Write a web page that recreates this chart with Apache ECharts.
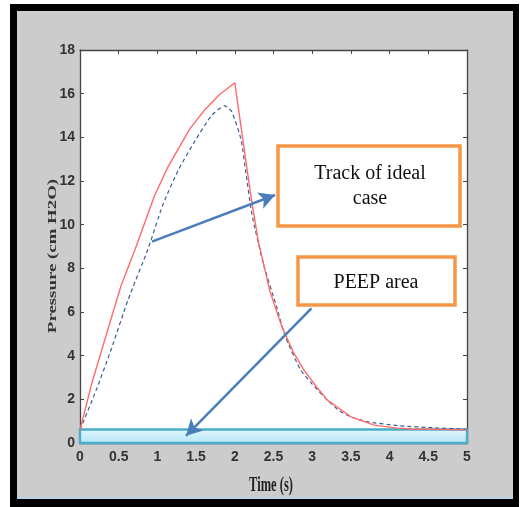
<!DOCTYPE html>
<html>
<head>
<meta charset="utf-8">
<script src="https://cdn.jsdelivr.net/npm/echarts@6/dist/echarts.min.js"></script>
<style>
html,body{margin:0;padding:0;background:#ffffff;}
#chart{width:529px;height:507px;}
</style>
</head>
<body>
<div id="chart"></div>
<script>
// ---- data ----
var xTicks = [0, 0.5, 1, 1.5, 2, 2.5, 3, 3.5, 4, 4.5, 5];
var yTicks = [0, 2, 4, 6, 8, 10, 12, 14, 16, 18];

var measuredTime = [0, 0.15, 0.36, 0.53, 0.71, 0.96, 1.13, 1.42, 1.61, 1.8, 2.0, 2.1, 2.2, 2.3, 2.45, 2.6, 2.75, 2.9, 3.05, 3.2, 3.5, 3.8, 4.1, 4.3, 5.0];
var measuredPressure = [0.6, 2.7, 5.2, 7.2, 8.85, 11.3, 12.6, 14.4, 15.25, 15.95, 16.5, 14.0, 11.5, 9.3, 7.0, 5.4, 4.2, 3.3, 2.6, 1.95, 1.2, 0.82, 0.68, 0.64, 0.6];

var idealTime = [0, 0.21, 0.40, 0.62, 0.88, 1.07, 1.27, 1.48, 1.70, 1.87, 1.96, 2.08, 2.15, 2.22, 2.37, 2.54, 2.65, 2.85, 3.0, 3.2, 3.36, 3.5, 3.7, 4.13, 4.56, 5.0, 5.14];
var idealPressure = [0.6, 2.43, 4.26, 6.55, 8.9, 10.9, 12.5, 13.8, 15.0, 15.44, 15.18, 13.9, 12.2, 10.5, 8.2, 6.24, 4.9, 3.35, 2.7, 1.95, 1.45, 1.2, 0.98, 0.79, 0.70, 0.63, 0.6];

var peepRange = {t0: 0, t1: 5, p0: 0, p1: 0.62};
var arrowIdeal = [[0.93, 9.22], [2.52, 11.36]];
var arrowPeep = [[2.99, 6.17], [1.37, 0.33]];

var xTitle = 'Time (s)';
var yTitle = 'Pressure (cm H2O)';

function pairs(xs, ys) { return xs.map(function (x, i) { return [x, ys[i]]; }); }

var chart = echarts.init(document.getElementById('chart'), null, {renderer: 'canvas'});

function tick() { return {show: true, inside: true, length: 4, lineStyle: {color: '#454545', width: 1}}; }
function line() { return {show: true, onZero: false, lineStyle: {color: '#454545', width: 1.3}}; }
var labelStyle = {color: '#333333', fontFamily: '"Liberation Sans Narrow", "Arial Narrow", "Liberation Sans"', fontSize: 14, fontWeight: 'bold'};

var option = {
  animation: false,
  backgroundColor: 'transparent',
  graphic: [
    {type: 'rect', z: -10, shape: {x: 10, y: 4, width: 509, height: 503}, style: {fill: '#000000'}},
    {type: 'rect', z: -9, shape: {x: 17, y: 11, width: 496, height: 488}, style: {fill: '#cccccc'}},
    {type: 'rect', z: -9, shape: {x: 17, y: 497, width: 496, height: 2}, style: {fill: '#b8d0ea'}},
    {type: 'text', z: 50, x: 271, y: 486, scaleX: 0.78, scaleY: 1.3,
      style: {text: xTitle, fill: '#222222', font: 'bold 16px "Liberation Serif", "Times New Roman", serif', textAlign: 'center', textVerticalAlign: 'middle'}},
    {type: 'text', z: 50, x: 53, y: 256, rotation: Math.PI / 2, scaleX: 1.45, scaleY: 1.0,
      style: {text: yTitle, fill: '#333333', font: 'bold 13px "Liberation Serif", "Times New Roman", serif', textAlign: 'center', textVerticalAlign: 'middle'}},
    {type: 'group', z: 100, children: [
      {type: 'rect', shape: {x: 278, y: 146, width: 182, height: 80}, style: {fill: '#ffffff', stroke: '#f79646', lineWidth: 3.5}},
      {type: 'text', style: {x: 370, y: 186, text: 'Track of ideal\ncase', fill: '#111111', font: '20px "Liberation Serif", "Times New Roman", serif', textAlign: 'center', textVerticalAlign: 'middle', lineHeight: 25}}
    ]},
    {type: 'group', z: 100, children: [
      {type: 'rect', shape: {x: 298, y: 257, width: 157, height: 48}, style: {fill: '#ffffff', stroke: '#f79646', lineWidth: 3.5}},
      {type: 'text', style: {x: 376, y: 283, text: 'PEEP area', fill: '#111111', font: '20px "Liberation Serif", "Times New Roman", serif', textAlign: 'center', textVerticalAlign: 'middle'}}
    ]}
  ],
  grid: {left: 80, right: 62, top: 50, bottom: 64, show: true, backgroundColor: '#ffffff', borderWidth: 0},
  xAxis: [
    {type: 'value', position: 'bottom', min: 0, max: 5, interval: 0.5,
      axisLine: line(), axisTick: tick(), splitLine: {show: false},
      axisLabel: Object.assign({margin: 7}, labelStyle)},
    {type: 'value', position: 'top', min: 0, max: 5, interval: 0.5,
      axisLine: line(), axisTick: tick(), splitLine: {show: false}, axisLabel: {show: false}}
  ],
  yAxis: [
    {type: 'value', position: 'left', min: 0, max: 18, interval: 2,
      axisLine: line(), axisTick: tick(), splitLine: {show: false},
      axisLabel: Object.assign({margin: 5}, labelStyle)},
    {type: 'value', position: 'right', min: 0, max: 18, interval: 2,
      axisLine: line(), axisTick: tick(), splitLine: {show: false}, axisLabel: {show: false}}
  ],
  series: [
    {
      name: 'measured', type: 'line', data: pairs(measuredTime, measuredPressure),
      showSymbol: false, symbol: 'none', smooth: false, z: 3,
      lineStyle: {color: '#ff6a6a', width: 1.4}
    },
    {
      name: 'ideal', type: 'line', data: pairs(idealTime, idealPressure),
      showSymbol: false, symbol: 'none', smooth: 0.2, clip: false, z: 2,
      lineStyle: {color: '#3d5f90', width: 1.2, type: [4, 3]}
    },
    {
      name: 'peep', type: 'line', data: [], z: 5, clip: false,
      markArea: {
        silent: true,
        itemStyle: {
          color: {type: 'linear', x: 0, y: 0, x2: 0, y2: 1, colorStops: [{offset: 0, color: '#e6f8fd'}, {offset: 1, color: '#b3e5f6'}]},
          borderColor: '#4aaec8', borderWidth: 2.4
        },
        label: {show: false},
        data: [[{coord: [peepRange.t0, peepRange.p1]}, {coord: [peepRange.t1, peepRange.p0]}]]
      }
    },
    {
      name: 'arrows', type: 'line', data: [], z: 6, clip: false,
      markLine: {
        silent: true, symbol: ['none', 'arrow'], symbolSize: [13, 16],
        label: {show: false},
        lineStyle: {color: '#4a7ebb', width: 2.5, type: 'solid'},
        data: [
          [{coord: arrowIdeal[0]}, {coord: arrowIdeal[1]}],
          [{coord: arrowPeep[0]}, {coord: arrowPeep[1]}]
        ]
      }
    }
  ]
};
chart.setOption(option);
</script>
</body>
</html>
